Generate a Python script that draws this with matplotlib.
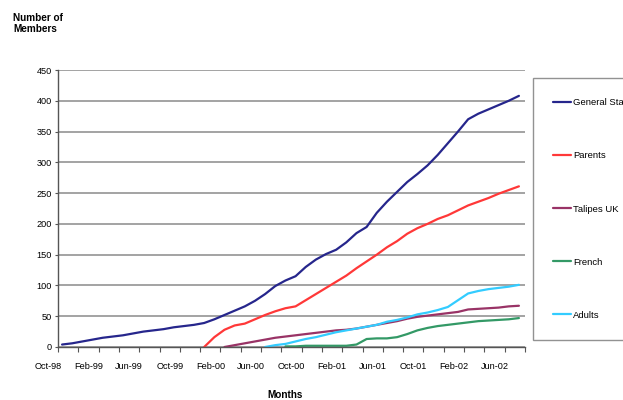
import numpy as np
import matplotlib
matplotlib.use("Agg")
import matplotlib.pyplot as plt
from matplotlib.transforms import ScaledTranslation

plt.rcParams['font.family'] = ['Liberation Sans', 'DejaVu Sans']

# ---- data (monthly readings, month index 0..45) ----
month_index = list(range(46))
nan = np.nan
general = [4, 6, 9, 12, 15, 17, 19, 22, 25, 27, 29, 32, 34, 36, 39, 45, 52, 59, 66, 75,
           86, 99, 108, 115, 130, 142, 151, 158, 170, 185, 195, 218, 236, 252, 268, 281,
           295, 312, 331, 350, 370, 379, 386, 393, 400, 408]
parents = [nan]*14 + [0, 16, 28, 35, 38, 45, 52, 58, 63, 66, 76, 86, 96, 106, 116, 128,
                      139, 150, 162, 172, 184, 193, 200, 208, 214, 222, 230, 236, 242, 249,
                      255, 261]
talipes = [nan]*16 + [0, 3, 6, 9, 12, 15, 17, 19, 21, 23, 25, 27, 28, 30, 33, 36, 39, 42,
                      46, 49, 51, 53, 55, 57, 61, 62, 63, 64, 66, 67]
french = [nan]*22 + [1, 1, 2, 2, 2, 2, 2, 4, 13, 14, 14, 16, 21, 27, 31, 34, 36, 38, 40,
                     42, 43, 44, 45, 47]
adults = [nan]*20 + [0, 3, 5, 9, 13, 16, 20, 24, 27, 30, 33, 36, 41, 44, 48, 53, 56, 60,
                     65, 76, 87, 91, 94, 96, 98, 101]

series_names = ["General Sta", "Parents", "Talipes UK", "French", "Adults"]
series_values = [general, parents, talipes, french, adults]
series_colors = ["#26268c", "#ff3838", "#993366", "#339966", "#33ccff"]

tick_labels = ["Oct-98", "Feb-99", "Jun-99", "Oct-99", "Feb-00", "Jun-00",
               "Oct-00", "Feb-01", "Jun-01", "Oct-01", "Feb-02", "Jun-02"]
y_ticks = list(range(0, 451, 50))

# ---- figure ----
fig = plt.figure(figsize=(6.23, 4.0), dpi=100)
ax = fig.add_axes([58/623, 1-347/400, (525-58)/623, (347-70)/400])

for name, vals, col in zip(series_names, series_values, series_colors):
    ax.plot(month_index, vals, color=col, lw=1.6, label=name, solid_capstyle='round')

ax.set_xlim(-0.4, 45.6)
ax.set_ylim(0, 450)
ax.set_yticks(y_ticks)
ax.set_yticklabels([str(v) for v in y_ticks])
ax.yaxis.grid(True, color="#8a8a8a", lw=1.1)
ax.set_axisbelow(True)

major = [-0.4 + 4*j for j in range(len(tick_labels))]
minor = [-0.4 + 2*j for j in range(24)]
ax.set_xticks(major)
ax.set_xticklabels(tick_labels)
ax.set_xticks(minor, minor=True)
ax.tick_params(axis='x', which='both', length=3.5, width=0.8, color='#555555',
               direction='out', labelsize=6.6, pad=7)
ax.tick_params(axis='y', length=2.5, width=0.8, color='#555555', labelsize=6.6, pad=2)
shift = ScaledTranslation(-0.10, 0, fig.dpi_scale_trans)
for lab in ax.get_xticklabels():
    lab.set_transform(lab.get_transform() + shift)

for s in ['top', 'right']:
    ax.spines[s].set_visible(False)
for s in ['left', 'bottom']:
    ax.spines[s].set_color('#555555')
    ax.spines[s].set_linewidth(1.0)

fig.text(13/623, 1-13/400, "Number of\nMembers", ha='left', va='top',
         fontsize=7.2, fontweight='bold', linespacing=1.15)
fig.text(285/623, 1-395/400, "Months", ha='center', va='center',
         fontsize=7.2, fontweight='bold')

leg = ax.legend(loc='upper left', bbox_to_anchor=(533/623, 1-78/400),
                bbox_transform=fig.transFigure, fontsize=6.8, frameon=True,
                fancybox=False, edgecolor='#777777', labelspacing=4.67,
                borderpad=2.15, handlelength=1.9, handletextpad=0.2,
                borderaxespad=0)
leg.get_frame().set_linewidth(1.0)

fig.savefig("out.png", dpi=100)
